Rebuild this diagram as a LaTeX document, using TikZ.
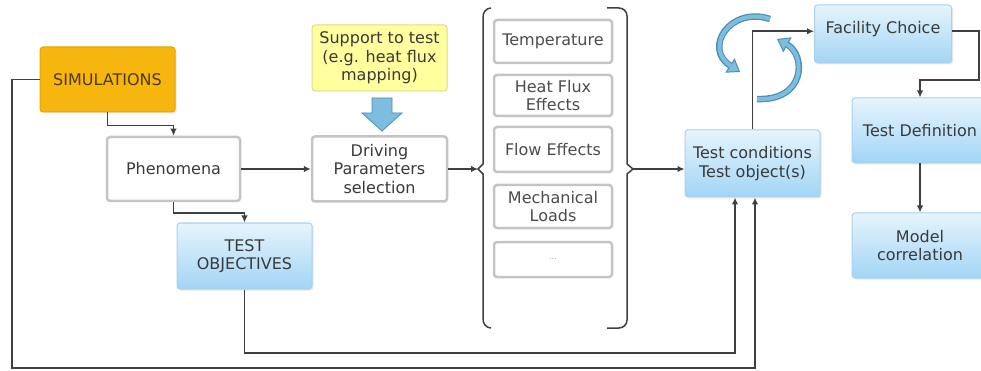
\documentclass[tikz,border=0pt]{standalone}
\usepackage{fontspec}
\setmainfont{DejaVu Sans}
\usepackage{xcolor}
\usepackage{tikz}
\usetikzlibrary{arrows.meta,shadows}
\definecolor{simfill}{HTML}{F6B60E}
\definecolor{simdraw}{HTML}{E3A408}
\definecolor{simtext}{HTML}{4E3A06}
\definecolor{bluetop}{HTML}{E6F4FD}
\definecolor{bluebot}{HTML}{A2D5F5}
\definecolor{bluedraw}{HTML}{A9D1EC}
\definecolor{notefill}{HTML}{FFFF9E}
\definecolor{notedraw}{HTML}{D9D98E}
\definecolor{plaingray}{HTML}{C4C4C4}
\definecolor{txtgray}{HTML}{3A3A3A}
\definecolor{linegray}{HTML}{404040}
\definecolor{turnfill}{HTML}{7DBDE0}
\definecolor{turndraw}{HTML}{4E8DB2}

\begin{document}
\begin{tikzpicture}[
        x=1pt, y=-1pt,
        box/.style={
            rectangle,
            rounded corners=3pt,
            align=center,
            text=txtgray,
            font=\fontsize{16}{18.5}\selectfont,
            inner sep=2pt,
            line width=1pt
        },
        simbox/.style={box, fill=simfill, draw=simdraw, text=simtext,
            drop shadow={opacity=0.18, shadow xshift=1.5pt, shadow yshift=-1.5pt}},
        plainbox/.style={box, fill=white, draw=plaingray, line width=2.5pt},
        bluebox/.style={box, top color=bluetop, bottom color=bluebot, draw=bluedraw,
            drop shadow={opacity=0.18, shadow xshift=1.5pt, shadow yshift=-1.5pt}},
        notebox/.style={box, fill=notefill, draw=notedraw},
        parbox/.style={plainbox, minimum width=118, text=black!70},
        conn/.style={draw=linegray, line width=1.6pt, -{Latex[length=7pt,width=6.5pt]}},
        bracket/.style={draw=linegray, line width=1.5pt},
        turn/.style={draw=turndraw, line width=6.5pt,
            -{Triangle[length=12pt,width=17pt,fill=turnfill,line width=1pt]}},
        turnin/.style={draw=turnfill, line width=4pt, shorten >=11pt}
    ]
        \useasboundingbox (0,0) rectangle (981,371);

        % left column
        \node[simbox, minimum width=135, minimum height=65] (sim) at (107.5,79.5) {SIMULATIONS};
        \node[plainbox, minimum width=133, minimum height=64] (phen) at (173.5,169) {Phenomena};
        \node[bluebox, minimum width=135, minimum height=66] (obj) at (244.5,256) {TEST\\OBJECTIVES};

        % parameters
        \node[notebox, minimum width=135, minimum height=66] (supp) at (379.5,58) {Support to test\\(e.g. heat flux\\mapping)};
        \node[plainbox, minimum width=135, minimum height=65] (drive) at (379.5,169) {Driving\\Parameters\\selection};
        \fill[turnfill, draw=turndraw, line width=0.8pt]
            (372,98) -- (392,98) -- (392,113) -- (402,113) -- (382,131) -- (362,113) -- (372,113) -- cycle;

        \node[parbox, minimum height=43] (temp) at (553,41.5) {Temperature};
        \node[parbox, minimum height=41] (heat) at (553,95.5) {Heat Flux\\Effects};
        \node[parbox, minimum height=45] (flow) at (553,149.5) {Flow Effects};
        \node[parbox, minimum height=43] (mech) at (553,206.5) {Mechanical\\Loads};
        \node[parbox, minimum height=35, font=\fontsize{8}{9}\selectfont, text=black!35] (more) at (553,259.5) {...};

        % brackets
        \coordinate (brL) at (478,169);
        \coordinate (brR) at (633,169);
        \draw[bracket] (491,8) to[out=180,in=90] (483,17) -- (483,164) -- (brL) -- (483,174)
            -- (483,319) to[out=270,in=180] (491,328);
        \draw[bracket] (607,8) -- (619,8) to[out=0,in=90] (627,16) -- (627,164) -- (brR) -- (627,174)
            -- (627,320) to[out=270,in=0] (619,328) -- (607,328);

        % test side
        \node[bluebox, minimum width=135, minimum height=67] (cond) at (752.5,163.5) {Test conditions\\Test object(s)};
        \node[bluebox, minimum width=137, minimum height=58, text height=25pt, text depth=25pt,
            inner ysep=4pt] (fac) at (883,34) {Facility Choice};
        \node[bluebox, minimum width=136, minimum height=65] (def) at (920,130.5) {Test Definition};
        \node[bluebox, minimum width=136, minimum height=65] (model) at (920,245.5) {Model\\correlation};

        % loop arrows
        \draw[turn] (770,19) .. controls (730,6) and (703,48) .. (740,72);
        \draw[turnin] (770,19) .. controls (730,6) and (703,48) .. (740,72);
        \draw[turn] (757,99) .. controls (806,101) and (806,55) .. (777,39);
        \draw[turnin] (757,99) .. controls (806,101) and (806,55) .. (777,39);

        % connectors
        \coordinate (loopL) at (12,368);
        \coordinate (loopR) at (755,368);
        \coordinate (objR) at (735,353);
        \coordinate (facturn) at (979,80);
        \draw[conn] (sim.south) -- ++(0,13) -| (phen.north);
        \draw[conn] (phen.south) -- ++(0,11) -| (obj.north);
        \draw[conn] (phen.east) -- (drive.west);
        \draw[conn] (drive.east) -- (brL);
        \draw[conn] (brR) -- (brR -| cond.west);
        \draw[conn] (sim.west) -| (loopL) -- (loopR) -- (loopR |- cond.south);
        \draw[conn] (obj.south) |- (objR) -- (objR |- cond.south);
        \draw[conn] (cond.north) |- (fac.mid west);
        \draw[conn] (fac.mid east) -| (facturn) -| (def.north);
        \draw[conn] (def.south) -- (model.north);
    \end{tikzpicture}
\end{document}
